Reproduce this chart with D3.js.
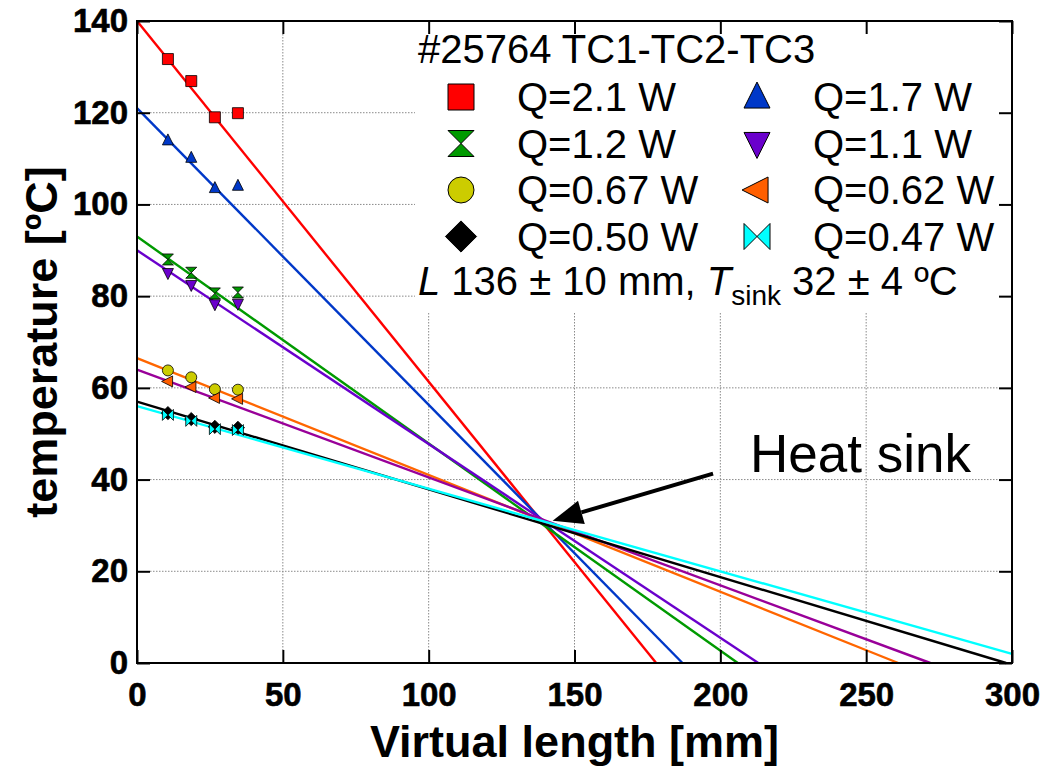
<!DOCTYPE html>
<html lang="en">
<head>
    <meta charset="UTF-8">
    <title>Virtual length vs temperature</title>
    <script src="https://d3js.org/d3.v7.min.js"></script>
    <style>
        body { margin: 0; background: #fff; }
        svg text { font-family: "Liberation Sans", Arial, Helvetica, sans-serif; }
    </style>
</head>
<body>
    <div id="chart-container"></div>

    <script>
        // Thermocouple positions (mm), same for every series
        const tcPositions = [10.6, 18.6, 26.7, 34.6];

        // Series labels and measured temperatures (ºC)
        const seriesNames = ["Q=2.1 W", "Q=1.7 W", "Q=1.2 W", "Q=1.1 W", "Q=0.67 W", "Q=0.62 W", "Q=0.50 W", "Q=0.47 W"];
        const temps21 = [131.7, 126.9, 119.0, 119.9];
        const temps17 = [114.0, 110.2, 103.6, 104.1];
        const temps12 = [88.0, 85.1, 80.6, 80.8];
        const temps11 = [85.0, 82.4, 78.2, 78.3];
        const temps067 = [63.8, 62.3, 59.7, 59.6];
        const temps062 = [61.4, 60.2, 57.8, 57.6];
        const temps050 = [54.5, 53.2, 51.5, 51.3];
        const temps047 = [54.1, 52.8, 51.0, 50.8];
        const allTemps = [temps21, temps17, temps12, temps11, temps067, temps062, temps050, temps047];

        // Linear fits: T = intercept + slope * x
        const fitIntercepts = [140, 121, 93, 90, 66.5, 64, 57, 56];
        const fitSlopes = [-0.7865, -0.647, -0.4515, -0.4225, -0.2548, -0.2353, -0.1913, -0.18];

        // Annotation
        const arrowTail = [197.5, 41.3];
        const arrowTip = [142.5, 31.0];

        const xTicks = [0, 50, 100, 150, 200, 250, 300];
        const yTicks = [0, 20, 40, 60, 80, 100, 120, 140];

        // colours / symbols
        const markerFill = ["#ff0000", "#0038c8", "#009a00", "#6a00cc", "#cccc00", "#ff5f00", "#000000", "#00ffff"];
        const lineColor = ["#ff0000", "#0038c8", "#009a00", "#6a00cc", "#ff6600", "#990099", "#000000", "#00ffff"];
        const markerShape = ["square", "triUp", "hourglass", "triDown", "circle", "triLeft", "diamond", "bowtie"];

        const width = 1045;
        const height = 771;
        const plotLeft = 137, plotRight = 1012, plotTop = 21, plotBottom = 663;
        const tickLen = 13;

        const svg = d3.select("#chart-container")
            .append("svg")
            .attr("width", width)
            .attr("height", height);

        const xScale = d3.scaleLinear().domain([0, 300]).range([plotLeft, plotRight]);
        const yScale = d3.scaleLinear().domain([0, 140]).range([plotBottom, plotTop]);

        // symbol path, s = half size
        function shapePath(type, s) {
            switch (type) {
                case "square": return `M${-s},${-s}H${s}V${s}H${-s}Z`;
                case "triUp": return `M0,${-s * 1.15}L${s},${s * 0.85}L${-s},${s * 0.85}Z`;
                case "triDown": return `M0,${s * 1.15}L${s},${-s * 0.85}L${-s},${-s * 0.85}Z`;
                case "triLeft": return `M${-s * 1.15},0L${s * 0.85},${-s}L${s * 0.85},${s}Z`;
                case "hourglass": return `M${-s},${-s}L${s},${-s}L${-s},${s}L${s},${s}Z`;
                case "bowtie": return `M${-s},${-s}L${-s},${s}L${s},${-s}L${s},${s}Z`;
                case "diamond": return `M0,${-s * 1.2}L${s * 1.2},0L0,${s * 1.2}L${-s * 1.2},0Z`;
                case "circle": return d3.arc()({innerRadius: 0, outerRadius: s, startAngle: 0, endAngle: 2 * Math.PI});
            }
        }

        // Dotted grid
        const grid = svg.append("g")
            .attr("stroke", "#8a8a8a")
            .attr("stroke-width", 1)
            .attr("stroke-dasharray", "1.5,1.5");
        grid.selectAll("line.gx")
            .data(xTicks.slice(1, -1))
            .enter()
            .append("line")
            .attr("x1", d => xScale(d))
            .attr("x2", d => xScale(d))
            .attr("y1", plotTop + tickLen)
            .attr("y2", plotBottom - tickLen);
        grid.selectAll("line.gy")
            .data(yTicks.slice(1, -1))
            .enter()
            .append("line")
            .attr("x1", plotLeft + tickLen)
            .attr("x2", plotRight - tickLen)
            .attr("y1", d => yScale(d))
            .attr("y2", d => yScale(d));

        // Legend background hides the grid
        svg.append("rect")
            .attr("x", 415)
            .attr("y", plotTop)
            .attr("width", plotRight - 415)
            .attr("height", 291)
            .attr("fill", "#fff");

        // Fit lines, from x = 0 down to T = 0 (or the axis end)
        const plot = svg.append("g");
        fitIntercepts.forEach((b, i) => {
            const m = fitSlopes[i];
            const xEnd = Math.min(300, -b / m);
            plot.append("line")
                .attr("x1", xScale(0))
                .attr("y1", yScale(b))
                .attr("x2", xScale(xEnd))
                .attr("y2", yScale(b + m * xEnd))
                .attr("stroke", lineColor[i])
                .attr("stroke-width", 2.4);
        });

        // Measured points
        allTemps.forEach((vals, i) => {
            plot.selectAll(null)
                .data(vals)
                .enter()
                .append("path")
                .attr("d", shapePath(markerShape[i], 5.5))
                .attr("transform", (d, j) => `translate(${xScale(tcPositions[j])},${yScale(d)})`)
                .attr("fill", markerFill[i])
                .attr("stroke", "#000")
                .attr("stroke-width", 0.8);
        });

        // Frame with inward ticks on all sides
        svg.append("rect")
            .attr("x", plotLeft)
            .attr("y", plotTop)
            .attr("width", plotRight - plotLeft)
            .attr("height", plotBottom - plotTop)
            .attr("fill", "none")
            .attr("stroke", "#000")
            .attr("stroke-width", 2);

        const xAxis = d3.axisBottom(xScale).tickValues(xTicks).tickSizeInner(-tickLen).tickSizeOuter(0).tickPadding(20);
        const yAxis = d3.axisLeft(yScale).tickValues(yTicks).tickSizeInner(-tickLen).tickSizeOuter(0).tickPadding(9);

        const gx = svg.append("g")
            .attr("transform", `translate(0, ${plotBottom})`)
            .call(xAxis);
        const gy = svg.append("g")
            .attr("transform", `translate(${plotLeft}, 0)`)
            .call(yAxis);
        [gx, gy].forEach(g => {
            g.select(".domain").remove();
            g.selectAll(".tick line").attr("stroke-width", 2);
            g.selectAll("text")
                .attr("font-family", "'Liberation Sans', Arial, sans-serif")
                .attr("font-size", "33px")
                .attr("font-weight", "bold")
                .attr("fill", "#000")
                .attr("stroke", "#000")
                .attr("stroke-width", 0.6);
        });
        // top and right ticks (no labels)
        svg.append("g")
            .attr("transform", `translate(0, ${plotTop})`)
            .call(d3.axisTop(xScale).tickValues(xTicks).tickSizeInner(-tickLen).tickSizeOuter(0).tickFormat(""))
            .call(g => g.select(".domain").remove())
            .call(g => g.selectAll(".tick line").attr("stroke-width", 2));
        svg.append("g")
            .attr("transform", `translate(${plotRight}, 0)`)
            .call(d3.axisRight(yScale).tickValues(yTicks).tickSizeInner(-tickLen).tickSizeOuter(0).tickFormat(""))
            .call(g => g.select(".domain").remove())
            .call(g => g.selectAll(".tick line").attr("stroke-width", 2));

        // Axis titles
        svg.append("text")
            .attr("x", (plotLeft + plotRight) / 2)
            .attr("y", 757)
            .attr("text-anchor", "middle")
            .attr("font-size", "45px")
            .attr("font-weight", "bold")
            .text("Virtual length [mm]");

        svg.append("text")
            .attr("transform", `translate(57, ${(plotTop + plotBottom) / 2}) rotate(-90)`)
            .attr("text-anchor", "middle")
            .attr("font-size", "45px")
            .attr("font-weight", "bold")
            .text("temperature [ºC]");

        // Legend
        const legend = svg.append("g");
        legend.append("text")
            .attr("x", 418)
            .attr("y", 63)
            .attr("font-size", "40px")
            .text("#25764 TC1-TC2-TC3");

        seriesNames.forEach((name, i) => {
            const col = i % 2;
            const row = Math.floor(i / 2);
            const cy = 97 + row * 46.5;
            const mx = col === 0 ? 461 : 757;
            legend.append("path")
                .attr("d", shapePath(markerShape[i], 13))
                .attr("transform", `translate(${mx},${cy})`)
                .attr("fill", markerFill[i])
                .attr("stroke", "#000")
                .attr("stroke-width", 1);
            legend.append("text")
                .attr("x", col === 0 ? 517 : 813)
                .attr("y", cy + 14)
                .attr("font-size", "40px")
                .text(name);
        });

        const info = legend.append("text")
            .attr("x", 418)
            .attr("y", 295)
            .attr("font-size", "40px");
        info.append("tspan").attr("font-style", "italic").text("L");
        info.append("tspan").text(" 136 ± 10 mm, ");
        info.append("tspan").attr("font-style", "italic").text("T");
        info.append("tspan").attr("font-size", "28px").attr("dy", 10).text("sink");
        info.append("tspan").attr("dy", -10).text(" 32 ± 4 ºC");

        // Heat sink arrow
        const tx = xScale(arrowTail[0]), ty = yScale(arrowTail[1]);
        const hx = xScale(arrowTip[0]), hy = yScale(arrowTip[1]);
        const ang = Math.atan2(hy - ty, hx - tx);
        const headLen = 30, headHalf = 12;
        const bx = hx - headLen * Math.cos(ang), by = hy - headLen * Math.sin(ang);
        svg.append("line")
            .attr("x1", tx).attr("y1", ty)
            .attr("x2", bx).attr("y2", by)
            .attr("stroke", "#000")
            .attr("stroke-width", 4);
        svg.append("path")
            .attr("d", `M${hx},${hy}L${bx - headHalf * Math.sin(ang)},${by + headHalf * Math.cos(ang)}L${bx + headHalf * Math.sin(ang)},${by - headHalf * Math.cos(ang)}Z`)
            .attr("fill", "#000");

        svg.append("text")
            .attr("x", 750)
            .attr("y", 472)
            .attr("font-size", "53px")
            .text("Heat sink");
    </script>
</body>
</html>
